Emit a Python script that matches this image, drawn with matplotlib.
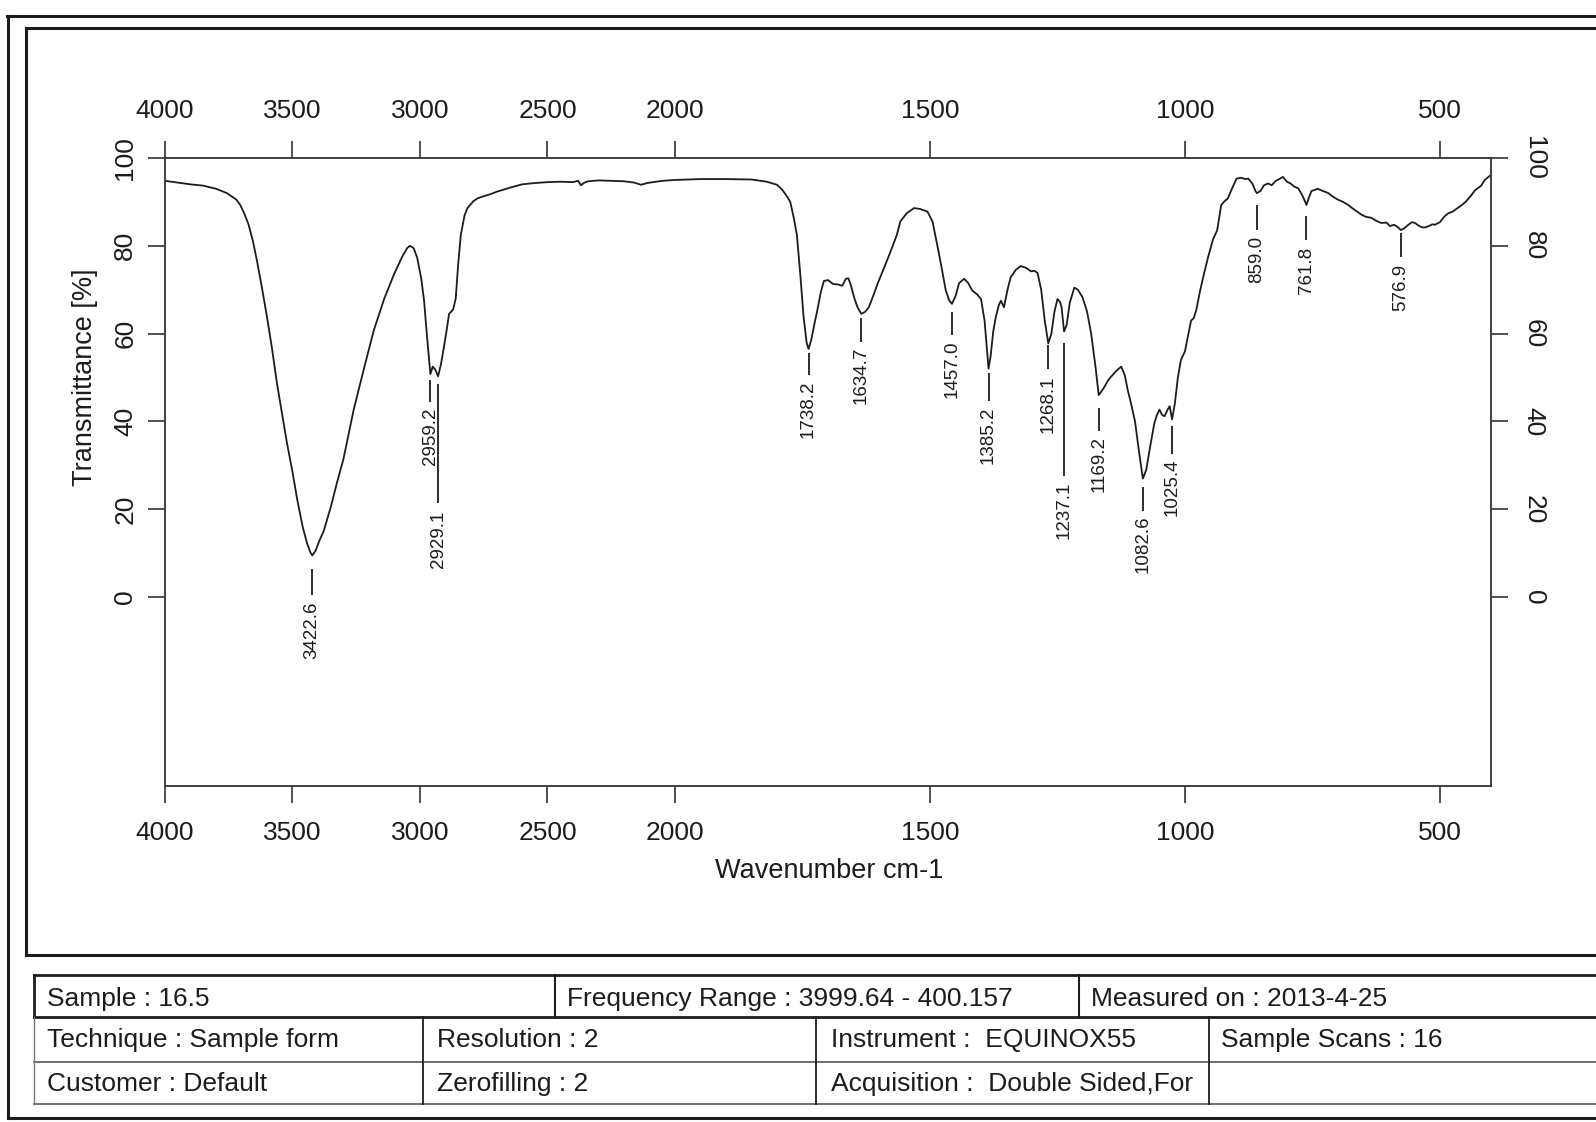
import numpy as np
import matplotlib
matplotlib.use("Agg")
import matplotlib.pyplot as plt
from matplotlib.lines import Line2D

plt.rcParams['font.family'] = ['Liberation Sans', 'DejaVu Sans']

# ---------------- data ----------------
wavenumber = [
    4000, 3950, 3900, 3850, 3800, 3757, 3720, 3705, 3690, 3672, 3655, 3639, 3620, 3600,
    3580, 3561, 3540, 3522, 3500, 3482, 3460, 3443, 3430, 3422.6, 3410, 3395, 3378, 3350,
    3325, 3300, 3260, 3220, 3181, 3140, 3102, 3070, 3050, 3040, 3025, 3011, 2995, 2984,
    2972, 2959.2, 2950, 2940, 2929.1, 2918, 2906, 2895, 2886, 2870, 2860, 2850, 2840,
    2825, 2814, 2790, 2775, 2750, 2722, 2700, 2650, 2600, 2550, 2500, 2450, 2400, 2380,
    2369, 2355, 2340, 2300, 2250, 2200, 2160, 2133, 2110, 2050, 2000, 1950, 1900, 1850,
    1820, 1800, 1790, 1780, 1774, 1767, 1761, 1754, 1748, 1742, 1738.2, 1733, 1727, 1721,
    1714, 1708, 1700, 1690, 1680, 1672, 1665, 1660, 1655, 1649, 1642, 1634.7, 1627, 1620,
    1610, 1603, 1590, 1577, 1565, 1558, 1545, 1531, 1520, 1505, 1495, 1486, 1478, 1469,
    1462, 1457.0, 1450, 1443, 1433, 1425, 1417, 1408, 1400, 1393, 1388, 1385.2, 1381, 1376,
    1371, 1365, 1361, 1355, 1348, 1342, 1332, 1322, 1312, 1302, 1295, 1289, 1282, 1275,
    1268.1, 1262, 1256, 1250, 1245, 1242, 1237.1, 1232, 1226, 1217, 1210, 1201, 1192, 1184,
    1175, 1169.2, 1160, 1150, 1145, 1135, 1125, 1118, 1112, 1106, 1098, 1090, 1082.6, 1076,
    1068, 1060, 1055, 1050, 1045, 1040, 1035, 1030, 1025.4, 1020, 1014, 1008, 1000, 995,
    988, 983, 978, 970, 962, 955, 945, 937, 929, 922, 916, 908, 899, 890, 882, 876, 868,
    862, 859.0, 852, 845, 837, 830, 822, 815, 808, 800, 793, 786, 778, 770, 765, 761.8,
    757, 752, 746, 740, 732, 725, 719, 710, 700, 690, 680, 670, 660, 654, 645, 635, 625,
    615, 605, 598, 590, 582, 576.9, 570, 562, 555, 549, 542, 535, 529, 522, 515, 510, 500,
    492, 484, 475, 468, 457, 450, 440, 431, 420, 412, 405, 400]
transmittance = [
    94.8, 94.4, 94.0, 93.7, 93.0, 92.0, 90.5, 89.3, 87.5, 84.8, 81.0, 76.5, 70.5, 63.8,
    56.5, 48.7, 41.5, 35.2, 28.5, 22.4, 16.0, 12.3, 10.2, 9.5, 10.5, 12.8, 15.0, 20.5,
    26.2, 31.5, 42.7, 52.0, 60.8, 68.0, 73.5, 77.5, 79.5, 80.0, 79.5, 77.3, 72.5, 67.5,
    59.0, 50.8, 52.5, 51.8, 50.3, 53.0, 57.0, 61.0, 64.5, 65.5, 68.0, 76.0, 82.5,
    87.0, 88.6, 90.2, 90.8, 91.3, 91.8, 92.3, 93.2, 94.0, 94.3, 94.5, 94.6, 94.5, 94.8,
    93.8, 94.4, 94.7, 94.9, 94.8, 94.7, 94.4, 93.9, 94.3, 94.8, 95.0, 95.2, 95.2, 95.1,
    94.6, 93.9, 92.8, 91.2, 90.0, 86.3, 82.5, 73.0, 64.0, 58.0, 56.5, 58.5, 62.0, 65.3,
    69.5, 72.0, 72.2, 71.3, 71.2, 70.9, 72.5, 72.6, 71.0, 68.3, 66.0, 64.5, 65.0, 66.0,
    69.0, 71.3, 75.0, 78.8, 82.5, 85.6, 87.5, 88.6, 88.4, 87.8, 85.5, 80.3, 75.5, 69.8,
    67.5, 66.8, 68.5, 71.5, 72.5, 71.5, 69.8, 69.0, 67.9, 63.0, 56.0, 52.0, 55.0, 60.5,
    63.8, 66.5, 67.5, 66.0, 70.0, 72.8, 74.5, 75.4, 75.0, 74.2, 74.3, 73.8, 70.0, 63.0,
    57.8, 60.0, 65.0, 67.9, 67.2, 66.0, 60.5, 62.0, 67.0, 70.5, 70.0, 68.3, 65.0, 60.0,
    52.0, 46.0, 47.5, 49.5, 50.2, 51.5, 52.5, 50.5, 47.0, 44.2, 40.0, 33.0, 27.0, 29.0,
    34.5, 39.7, 41.5, 42.7, 41.5, 41.2, 42.5, 43.5, 40.5, 44.0, 50.0, 54.0, 56.0, 59.0,
    63.0, 63.5, 65.3, 70.0, 74.0, 77.3, 81.5, 83.5, 89.3, 90.2, 90.8, 93.0, 95.3, 95.5, 95.2, 95.3, 94.2,
    92.5, 92.0, 92.5, 93.8, 94.2, 93.8, 94.8, 95.2, 95.7, 94.6, 94.2, 93.5, 93.1, 91.5, 90.2, 89.3,
    91.0, 92.5, 92.7, 93.0, 92.6, 92.3, 92.0, 91.2, 90.5, 90.0, 89.3, 88.4, 87.6, 87.1, 86.6, 86.4, 85.7,
    85.2, 85.3, 84.5, 84.8, 84.2, 83.6, 84.0, 84.8, 85.4, 85.2, 84.6, 84.2, 84.2, 84.5, 84.9, 84.8, 85.4,
    86.6, 87.4, 87.8, 88.4, 89.3, 90.0, 91.3, 92.7, 93.6, 95.0, 95.7, 96.1]

peak_labels = ["3422.6", "2959.2", "2929.1", "1738.2", "1634.7", "1457.0", "1385.2",
               "1268.1", "1237.1", "1169.2", "1082.6", "1025.4", "859.0", "761.8", "576.9"]
peak_positions = [3422.6, 2959.2, 2929.1, 1738.2, 1634.7, 1457.0, 1385.2,
                  1268.1, 1237.1, 1169.2, 1082.6, 1025.4, 859.0, 761.8, 576.9]
marker_top = [6.5, 49.5, 48.5, 55.5, 63.5, 64.9, 51.0, 57.5, 57.9, 43.1, 25.0, 38.9, 89.4, 86.9, 83.0]
marker_bottom = [0.5, 44.5, 21.5, 50.5, 58.2, 59.8, 44.7, 51.9, 27.6, 37.8, 19.7, 32.7, 83.7, 81.3, 77.4]
label_top = [-1.0, 43.2, 19.8, 49.3, 57.0, 58.5, 43.5, 50.5, 26.2, 36.6, 18.6, 31.5, 82.3, 79.7, 76.0]

x_ticks = [4000, 3500, 3000, 2500, 2000, 1500, 1000, 500]
y_ticks = [0, 20, 40, 60, 80, 100]
x_title = "Wavenumber cm-1"
y_title = "Transmittance [%]"

row1_text = ["Sample : 16.5", "Frequency Range : 3999.64 - 400.157", "Measured on : 2013-4-25"]
row2_text = ["Technique : Sample form", "Resolution : 2", "Instrument :  EQUINOX55", "Sample Scans : 16"]
row3_text = ["Customer : Default", "Zerofilling : 2", "Acquisition :  Double Sided,For"]

# ---------------- figure ----------------
W, H = 1596, 1122
fig = plt.figure(figsize=(W / 100, H / 100), dpi=100)
fig.patch.set_facecolor('white')


def fx(x):
    return x / W


def fy(y):
    return 1 - y / H


INK = '#1c1c1c'

# plot area
ax_l, ax_r, ax_t, ax_b = 165, 1491, 158, 786
ax = fig.add_axes([fx(ax_l), fy(ax_b), fx(ax_r) - fx(ax_l), fy(ax_t) - fy(ax_b)])


def fwd(x):
    x = np.asarray(x, dtype=float)
    return np.where(x <= 2000, x, 2000 + (x - 2000) / 2.0)


def inv(u):
    u = np.asarray(u, dtype=float)
    return np.where(u <= 2000, u, 2000 + (u - 2000) * 2.0)


ax.set_xscale('function', functions=(fwd, inv))
ax.plot(wavenumber, transmittance, color=INK, lw=1.3)
ax.set_xlim(4000, 400)
ax.set_ylim(-43, 100)
ax.set_xticks(x_ticks)
ax.set_xticklabels([str(t) for t in x_ticks])
ax.xaxis.set_minor_locator(matplotlib.ticker.NullLocator())
ax.set_yticks(y_ticks)
ax.set_yticklabels([str(t) for t in y_ticks])

for s in ax.spines.values():
    s.set_color('#333333')
    s.set_linewidth(1.3)

ax.tick_params(axis='x', which='major', direction='out', length=12, width=1.2,
               color='#333333', top=True, bottom=True, labeltop=True, labelbottom=True,
               labelsize=19, pad=13, labelcolor=INK)
ax.tick_params(axis='y', which='major', direction='out', length=12, width=1.2,
               color='#333333', left=True, right=False, labelleft=True, labelright=False,
               labelsize=19, pad=8, labelrotation=90, labelcolor=INK)
for lbl in ax.get_yticklabels():
    lbl.set_va('center')

ax2 = ax.twinx()
ax2.set_ylim(-43, 100)
ax2.set_yticks(y_ticks)
ax2.set_yticklabels([str(t) for t in y_ticks])
ax2.tick_params(axis='y', direction='out', length=12, width=1.2, color='#333333',
                labelsize=19, pad=10, labelrotation=-90, labelcolor=INK)
for lbl in ax2.get_yticklabels():
    lbl.set_va('center')
for s in ax2.spines.values():
    s.set_visible(False)

# peak markers and labels
ax.vlines(peak_positions, marker_bottom, marker_top, color=INK, lw=1.3)
for lab, pos, top in zip(peak_labels, peak_positions, label_top):
    ax.text(pos, top, lab, rotation=90, ha='center', va='top', fontsize=13.5, color=INK)

# axis titles
fig.text(fx(829), fy(871), x_title, ha='center', va='center', fontsize=19.5, color=INK)
fig.text(fx(85), fy(377), y_title, ha='center', va='center', rotation=90, fontsize=19.5, color=INK)


# ---------------- frames ----------------
def hline(x0, x1, y, lw=1.5, color=INK):
    fig.add_artist(Line2D([fx(x0), fx(x1)], [fy(y), fy(y)], lw=lw, color=color,
                          transform=fig.transFigure))


def vline(x, y0, y1, lw=1.5, color=INK):
    fig.add_artist(Line2D([fx(x), fx(x)], [fy(y0), fy(y1)], lw=lw, color=color,
                          transform=fig.transFigure))


# outer frame
hline(7, 1600, 16, lw=2.2)
vline(8, 16, 1118, lw=2.2)
hline(8, 1600, 1118, lw=2.2)
# inner plot frame
hline(26, 1600, 28, lw=2.2)
vline(26, 28, 955, lw=2.2)
hline(26, 1600, 955, lw=2.2)

# info table
hline(34, 1600, 975, lw=2.0)
hline(34, 1600, 1017, lw=2.0)
vline(34, 975, 1017, lw=2.0)
vline(555, 975, 1017, lw=1.5)
vline(1079, 975, 1017, lw=1.5)
hline(34, 1600, 1062, lw=1.2, color='#555555')
hline(34, 1600, 1104, lw=1.2, color='#555555')
vline(34, 1017, 1104, lw=1.0, color='#777777')
vline(423, 1017, 1104, lw=1.3)
vline(816, 1017, 1104, lw=1.3)
vline(1209, 1017, 1104, lw=1.3)

row1_x = [47, 567, 1091]
row2_x = [47, 437, 831, 1221]
row3_x = [47, 437, 831]
for t, x in zip(row1_text, row1_x):
    fig.text(fx(x), fy(999), t, ha='left', va='center', fontsize=19, color=INK)
for t, x in zip(row2_text, row2_x):
    fig.text(fx(x), fy(1040), t, ha='left', va='center', fontsize=19, color=INK)
for t, x in zip(row3_text, row3_x):
    fig.text(fx(x), fy(1084), t, ha='left', va='center', fontsize=19, color=INK)

fig.savefig('out.png', dpi=100, facecolor='white')
